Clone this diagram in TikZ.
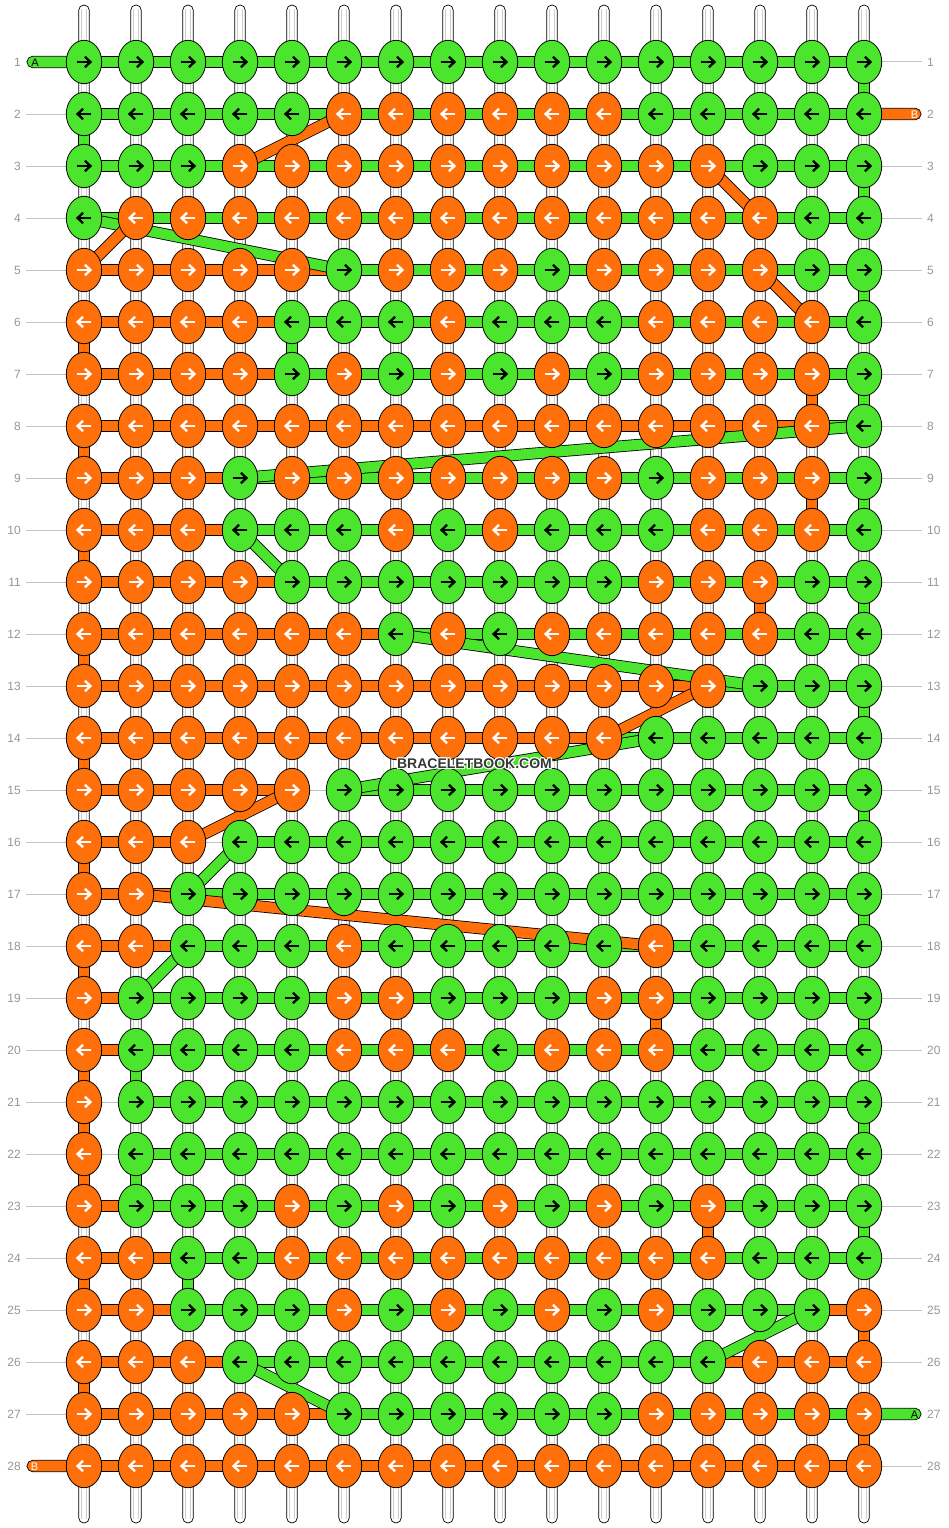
\documentclass[tikz,border=0pt]{standalone}
\usepackage{fontspec}
\setmainfont{Liberation Sans}
\usetikzlibrary{shapes.geometric}
\definecolor{cg}{RGB}{76,229,45}
\definecolor{co}{RGB}{255,111,10}
\definecolor{lblgray}{RGB}{150,150,150}
\definecolor{guidegray}{RGB}{195,195,195}
\definecolor{wmgray}{RGB}{55,55,55}
\colorlet{colG}{cg}
\colorlet{colO}{co}
\colorlet{arrG}{black}
\colorlet{arrO}{white}
\tikzset{
  segG/.style={draw=black, line width=0.8pt, double=cg, double distance=10.2pt},
  segO/.style={draw=black, line width=0.8pt, double=co, double distance=10.2pt},
  segN/.style={},
  vlinkG/.style={fill=cg, draw=black, line width=0.7pt},
  vlinkO/.style={fill=co, draw=black, line width=0.7pt},
  vstring/.style={fill=white, draw=black, line width=0.7pt, rounded corners=5.2pt},
  vinner/.style={draw={rgb,255:red,205;green,205;blue,205}, line width=0.8pt},
  knot/.style={ellipse, draw=black, line width=0.8pt, minimum width=35.4pt, minimum height=43.4pt, inner sep=0pt},
  arrowline/.style={line width=2.3pt, line cap=butt, line join=miter},
  lbl/.style={text=lblgray, font=\fontsize{12}{14}\selectfont, inner sep=0pt},
  guide/.style={draw=guidegray, line width=1pt},
  stubG/.style={fill=cg, draw=black, line width=0.7pt, rounded corners=5.5pt},
  stubO/.style={fill=co, draw=black, line width=0.7pt, rounded corners=5.5pt},
  stubtext/.style={font=\fontsize{11}{12}\selectfont, inner sep=0pt},
  wm/.style={font=\bfseries\fontsize{14}{16}\selectfont, inner sep=0pt}
}
\def\knotrows{
{G,G,G,G,G,G,G,G,G,G,G,G,G,G,G,G},
{G,G,G,G,G,O,O,O,O,O,O,G,G,G,G,G},
{G,G,G,O,O,O,O,O,O,O,O,O,O,G,G,G},
{G,O,O,O,O,O,O,O,O,O,O,O,O,O,G,G},
{O,O,O,O,O,G,O,O,O,G,O,O,O,O,G,G},
{O,O,O,O,G,G,G,O,G,G,G,O,O,O,O,G},
{O,O,O,O,G,O,G,O,G,O,G,O,O,O,O,G},
{O,O,O,O,O,O,O,O,O,O,O,O,O,O,O,G},
{O,O,O,G,O,O,O,O,O,O,O,G,O,O,O,G},
{O,O,O,G,G,G,O,G,O,G,G,G,O,O,O,G},
{O,O,O,O,G,G,G,G,G,G,G,O,O,O,G,G},
{O,O,O,O,O,O,G,O,G,O,O,O,O,O,G,G},
{O,O,O,O,O,O,O,O,O,O,O,O,O,G,G,G},
{O,O,O,O,O,O,O,O,O,O,O,G,G,G,G,G},
{O,O,O,O,O,G,G,G,G,G,G,G,G,G,G,G},
{O,O,O,G,G,G,G,G,G,G,G,G,G,G,G,G},
{O,O,G,G,G,G,G,G,G,G,G,G,G,G,G,G},
{O,O,G,G,G,O,G,G,G,G,G,O,G,G,G,G},
{O,G,G,G,G,O,O,G,G,G,O,O,G,G,G,G},
{O,G,G,G,G,O,O,O,G,O,O,O,G,G,G,G},
{O,G,G,G,G,G,G,G,G,G,G,G,G,G,G,G},
{O,G,G,G,G,G,G,G,G,G,G,G,G,G,G,G},
{O,G,G,G,O,G,O,G,O,G,O,G,O,G,G,G},
{O,O,G,G,O,O,O,O,O,O,O,O,O,G,G,G},
{O,O,G,G,G,O,G,O,G,O,G,O,G,G,G,O},
{O,O,O,G,G,G,G,G,G,G,G,G,G,O,O,O},
{O,O,O,O,O,G,G,G,G,G,G,O,O,O,O,O},
{O,O,O,O,O,O,O,O,O,O,O,O,O,O,O,O}}
\def\segrows{
{G,G,G,G,G,G,G,G,G,G,G,G,G,G,G},
{G,G,G,G,G,G,G,G,G,G,G,G,G,G,G},
{G,G,G,G,G,G,G,G,G,G,G,G,G,G,G},
{G,G,G,G,G,G,G,G,G,G,G,G,G,G,G},
{O,O,O,O,O,G,G,G,G,G,G,G,G,G,G},
{O,O,O,O,G,G,G,G,G,G,G,G,G,G,G},
{O,O,O,O,G,G,G,G,G,G,G,G,G,G,G},
{O,O,O,O,O,O,O,O,O,O,O,O,O,O,G},
{O,O,O,G,G,G,G,G,G,G,G,G,G,G,G},
{O,O,O,G,G,G,G,G,G,G,G,G,G,G,G},
{O,O,O,O,G,G,G,G,G,G,G,G,G,G,G},
{O,O,O,O,O,O,G,G,G,G,G,G,G,G,G},
{O,O,O,O,O,O,O,O,O,O,O,O,G,G,G},
{O,O,O,O,O,O,O,O,O,O,G,G,G,G,G},
{O,O,O,O,N,G,G,G,G,G,G,G,G,G,G},
{O,O,N,G,G,G,G,G,G,G,G,G,G,G,G},
{O,O,G,G,G,G,G,G,G,G,G,G,G,G,G},
{O,O,G,G,G,G,G,G,G,G,G,G,G,G,G},
{O,G,G,G,G,G,G,G,G,G,G,G,G,G,G},
{O,G,G,G,G,G,G,G,G,G,G,G,G,G,G},
{N,G,G,G,G,G,G,G,G,G,G,G,G,G,G},
{N,G,G,G,G,G,G,G,G,G,G,G,G,G,G},
{O,G,G,G,G,G,G,G,G,G,G,G,G,G,G},
{O,O,G,G,G,G,G,G,G,G,G,G,G,G,G},
{O,O,G,G,G,G,G,G,G,G,G,G,G,G,O},
{O,O,O,G,G,G,G,G,G,G,G,G,O,O,O},
{O,O,O,O,O,G,G,G,G,G,G,G,G,G,G},
{O,O,O,O,O,O,O,O,O,O,O,O,O,O,O}}
\begin{document}
\begin{tikzpicture}[x=1pt,y=-1pt]
\useasboundingbox (0,0) rectangle (948,1528);
% grid coordinates
\foreach \r in {1,...,28}{
  \foreach \c in {1,...,16}{
    \coordinate (p-\r-\c) at ({32+52*\c},{10+52*\r});
  }
  \coordinate (gl-\r) at (26,{10+52*\r});
  \coordinate (gr-\r) at (922,{10+52*\r});
}
\foreach \c in {1,...,16}{
  \coordinate (top-\c) at ({32+52*\c},5);
  \coordinate (bot-\c) at ({32+52*\c},1523);
}
% row guide lines and numbers
\foreach \r in {1,...,28}{
  \draw[guide] (gl-\r) -- (gr-\r);
  \node[lbl, anchor=east] (nl-\r) at ([xshift=-5pt]gl-\r) {\r};
  \node[lbl, anchor=west] (nr-\r) at ([xshift=5pt]gr-\r) {\r};
}
% vertical strings
\foreach \c in {1,...,16}{
  \path[vstring] ([xshift=-5.3pt]top-\c) rectangle ([xshift=5.3pt]bot-\c);
  \draw[vinner] ([xshift=-2.6pt,yshift=-4pt]top-\c) -- ([xshift=-2.6pt,yshift=4pt]bot-\c);
  \draw[vinner] ([xshift=2.6pt,yshift=-4pt]top-\c) -- ([xshift=2.6pt,yshift=4pt]bot-\c);
}
% coloured vertical links between rows
\foreach \r/\c/\k in {1/16/G,2/1/G,3/16/G,5/16/G,6/1/O,6/5/G,7/15/O,7/16/G,8/1/O,9/15/O,9/16/G,10/1/O,11/14/O,11/16/G,12/1/O,13/16/G,14/1/O,15/16/G,16/1/O,17/16/G,18/1/O,19/12/O,19/16/G,20/1/O,20/2/G,21/1/O,21/16/G,22/1/O,22/2/G,23/13/O,23/16/G,24/1/O,24/3/G,25/16/O,26/1/O,27/16/O}{
  \pgfmathtruncatemacro\rn{\r+1}
  \path[vlink\k] ([xshift=-5.3pt]p-\r-\c) rectangle ([xshift=5.3pt]p-\rn-\c);
}
% end stubs
\coordinate (sA1) at (27,62);
\coordinate (sB2) at (921,114);
\coordinate (sA27) at (921,1414);
\coordinate (sB28) at (27,1466);
\path[stubG] ([yshift=5.7pt]sA1) rectangle ([yshift=-5.7pt]p-1-1);
\path[stubO] ([yshift=5.7pt]p-2-16) rectangle ([yshift=-5.7pt]sB2);
\path[stubG] ([yshift=5.7pt]p-27-16) rectangle ([yshift=-5.7pt]sA27);
\path[stubO] ([yshift=5.7pt]sB28) rectangle ([yshift=-5.7pt]p-28-1);
\node[stubtext, text=black] (tA1) at (35,62.5) {A};
\node[stubtext, text=white] (tB2) at (914.5,114.5) {B};
\node[stubtext, text=black] (tA27) at (914.5,1414.5) {A};
\node[stubtext, text=white] (tB28) at (34.5,1466.5) {B};
% horizontal segments
\foreach \sl [count=\r] in \segrows {
  \foreach \s [count=\c] in \sl {
    \pgfmathtruncatemacro\cn{\c+1}
    \path[seg\s] (p-\r-\c) -- (p-\r-\cn);
  }
}
% diagonal strings
\foreach \ra/\ca/\rb/\cb/\k in {2/6/3/4/O,3/13/4/14/O,4/1/5/6/G,4/2/5/1/O,5/14/6/15/O,8/16/9/4/G,10/4/11/5/G,12/7/13/14/G,13/13/14/11/O,14/12/15/6/G,15/5/16/3/O,16/4/17/3/G,17/2/18/12/O,18/3/19/2/G,25/15/26/13/G,26/4/27/6/G}{
  \path[seg\k] (p-\ra-\ca) -- (p-\rb-\cb);
}
% knots with arrows
\foreach \kl [count=\r] in \knotrows {
  \ifodd\r \def\dir{1}\else\def\dir{-1}\fi
  \foreach \k [count=\c] in \kl {
    \node[knot, fill=col\k] (k-\r-\c) at (p-\r-\c) {};
    \begin{scope}[shift={(p-\r-\c)}, xscale=\dir]
      \draw[arrowline, draw=arr\k] (-7.4,0) -- (5.6,0);
      \draw[arrowline, draw=arr\k] (1.0,-5.3) -- (6.4,0) -- (1.0,5.3);
    \end{scope}
  }
}
% watermark
\coordinate (wmc) at (474.5,763.5);
\foreach \dx/\dy in {-1.3/0,1.3/0,0/-1.3,0/1.3,-0.9/-0.9,0.9/-0.9,-0.9/0.9,0.9/0.9}{
  \node[wm, text=white] at ([xshift=\dx pt, yshift=\dy pt]wmc) {BRACELETBOOK.COM};
}
\node[wm, text=wmgray] (wm) at (wmc) {BRACELETBOOK.COM};
\end{tikzpicture}
\end{document}
